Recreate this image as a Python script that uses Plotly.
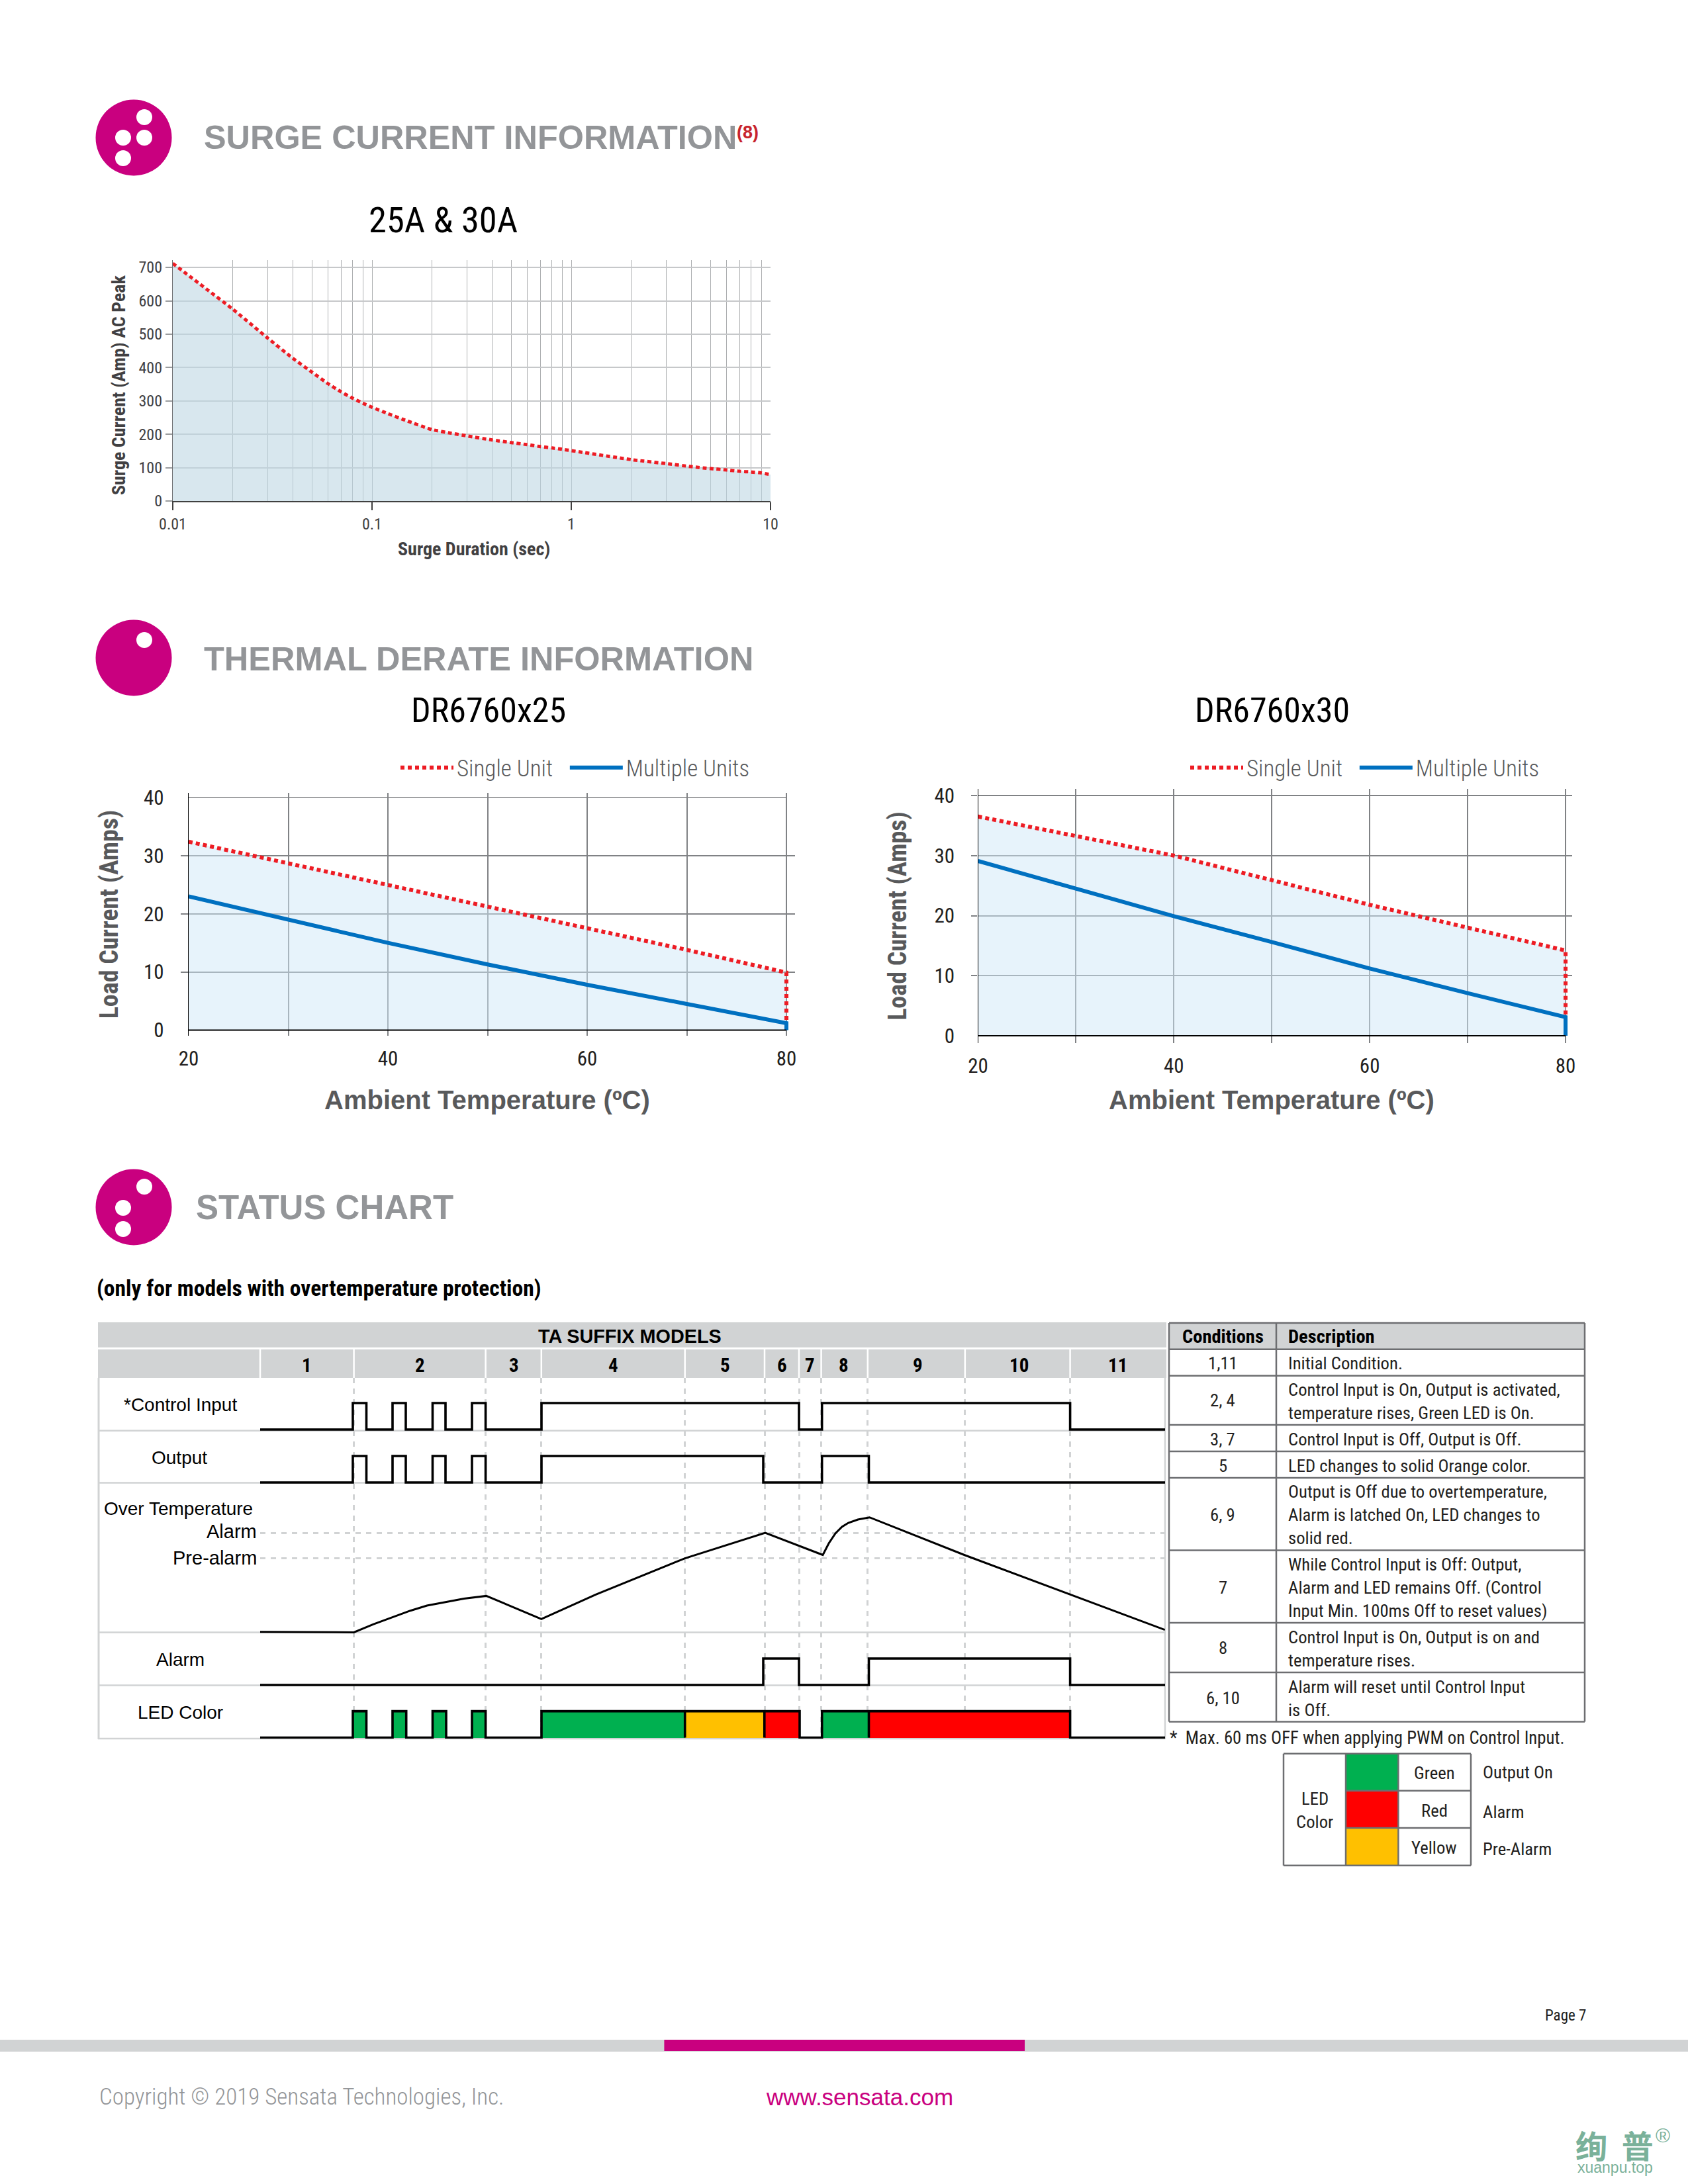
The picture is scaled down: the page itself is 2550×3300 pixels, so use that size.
import plotly.graph_objects as go

W, H = 2550, 3300
NARROW = "Roboto Condensed"
LIGHTF = "Roboto Condensed Light, Roboto Condensed"
SANS = "Liberation Sans"
MAG = "#c9007f"
GRAY = "#939598"
LIGHT = "#d1d3d4"

# ---------- data ----------
SURGE_T = [0.01, 0.015, 0.02, 0.03, 0.04, 0.05, 0.06, 0.07, 0.08, 0.09, 0.1, 0.12, 0.15, 0.2, 0.25, 0.3, 0.4, 0.5, 0.6, 0.7, 0.8, 0.9,
           1, 2, 3, 4, 5, 6, 7, 8, 9, 10]
SURGE_A = [712, 632, 575, 488, 428, 386, 352, 327, 308, 293, 281, 262, 240, 214, 203, 195, 183, 175, 169, 163, 159, 155,
           151, 124, 112, 103, 97, 93, 89, 87, 84, 79]
SURGE_X_MAJOR = [0.01, 0.1, 1, 10]
SURGE_X_MAJOR_TEXT = ["0.01", "0.1", "1", "10"]
SURGE_X_MINOR = [0.02, 0.03, 0.04, 0.05, 0.06, 0.07, 0.08, 0.09, 0.2, 0.3, 0.4, 0.5, 0.6, 0.7, 0.8, 0.9,
                 2, 3, 4, 5, 6, 7, 8, 9]
SURGE_Y_TICKS = [0, 100, 200, 300, 400, 500, 600, 700]

AMB = [20, 30, 40, 50, 60, 70, 80, 80]
SINGLE_25 = [32.4, 28.7, 25.0, 21.3, 17.5, 13.8, 9.9, 0]
MULTI_25 = [23.0, 19.0, 15.0, 11.3, 7.8, 4.5, 1.2, 0]
SINGLE_30 = [36.5, 33.2, 30.0, 25.9, 21.8, 18.0, 14.2, 0]
MULTI_30 = [29.1, 24.5, 19.9, 15.6, 11.2, 7.1, 3.1, 0]
AMB_MAJOR = [20, 40, 60, 80]
AMB_MINOR = [30, 50, 70]
LOAD_TICKS = [0, 10, 20, 30, 40]

# status timing chart (time axis in drawing units)
COND_EDGES = [393, 534.6, 733.6, 817.8, 1034.7, 1155, 1207, 1240.6, 1310.8, 1457.8, 1616.6, 1760]
COND_LABELS = ["1", "2", "3", "4", "5", "6", "7", "8", "9", "10", "11"]
COND_LABEL_POS = [463, 634, 776, 926, 1095, 1181, 1223, 1274, 1386.5, 1539, 1688]

CONTROL_T = [393, 533, 553.5, 593, 613, 653.5, 673, 713, 733.6, 818, 1207, 1241.7, 1616.6, 1760]
CONTROL_L = [0, 1, 0, 1, 0, 1, 0, 1, 0, 1, 0, 1, 0, 0]
OUTPUT_T = [393, 533, 553.5, 593, 613, 653.5, 673, 713, 733.6, 818, 1153, 1241.7, 1312.5, 1760]
OUTPUT_L = [0, 1, 0, 1, 0, 1, 0, 1, 0, 1, 0, 1, 0, 0]
ALARM_T = [393, 1153, 1207, 1312.5, 1616.6, 1760]
ALARM_L = [0, 1, 0, 1, 0, 0]
TEMP_T = [393, 534.6, 563.7, 589, 620, 645, 671, 701, 734.6, 817.8, 900, 930, 1034.7, 1156, 1243, 1252, 1262, 1272, 1281.6, 1296, 1313.6, 1458, 1616.6, 1759.7]
TEMP_V = [161.3, 160.5, 172.6, 182, 193.3, 201, 206, 211.4, 215.6, 180.7, 217.7, 230, 272.4, 311, 277.5, 295, 310, 320, 326, 331, 334.3, 277, 218, 164.3]
THRESHOLDS = [311, 272.4]

LED_START = [533, 593, 653.5, 713, 818, 1034.7, 1154.8, 1241.7, 1312.5]
LED_END = [553.5, 613.7, 674, 733.6, 1034.7, 1154.8, 1208, 1312.5, 1616.6]
LED_COLOR = ["#00b050", "#00b050", "#00b050", "#00b050", "#00b050", "#ffc000", "#ff0000", "#00b050", "#ff0000"]
LED_T = [393, 533, 553.5, 593, 613.7, 653.5, 674, 713, 733.6, 818, 1034.7, 1034.7, 1154.8, 1154.8, 1208, 1241.7, 1312.5, 1312.5, 1616.6, 1760]
LED_L = [0, 1, 0, 1, 0, 1, 0, 1, 0, 1, 0, 1, 0, 1, 0, 1, 0, 1, 0, 0]


def fx(x):
    return x / W


def fy(y):
    return 1 - y / H


shapes = []
annots = []


def text(x, y, s, size, color="#231f20", anchor="center", family=NARROW, bold=False, angle=0):
    annots.append(dict(x=fx(x), y=fy(y), xref="paper", yref="paper", text=s, showarrow=False,
                       xanchor=anchor, yanchor="middle", textangle=angle,
                       font=dict(family=family, size=size, color=color, weight="bold" if bold else "normal")))


def rect(x0, y0, x1, y1, fill=None, line=None, lw=0):
    shapes.append(dict(type="rect", xref="paper", yref="paper", x0=fx(x0), x1=fx(x1), y0=fy(y0), y1=fy(y1),
                       fillcolor=fill or "rgba(0,0,0,0)", line=dict(color=line or "rgba(0,0,0,0)", width=lw),
                       layer="below"))


def hline(x0, x1, y, color, lw):
    shapes.append(dict(type="line", xref="paper", yref="paper", x0=fx(x0), x1=fx(x1), y0=fy(y), y1=fy(y),
                       line=dict(color=color, width=lw), layer="below"))


def vline(x, y0, y1, color, lw):
    shapes.append(dict(type="line", xref="paper", yref="paper", x0=fx(x), x1=fx(x), y0=fy(y0), y1=fy(y1),
                       line=dict(color=color, width=lw), layer="below"))


def circle(cx, cy, r, color):
    shapes.append(dict(type="circle", xref="paper", yref="paper", x0=fx(cx - r), x1=fx(cx + r),
                       y0=fy(cy + r), y1=fy(cy - r), fillcolor=color, line=dict(width=0), layer="below"))


def logo(cy, dots):
    circle(202, cy, 57.5, MAG)
    for dx, dy in dots:
        circle(202 + dx, cy + dy, 12, "white")


logo(208, [(16, -31), (-16, 0), (16, 0), (-16, 31)])
logo(994, [(16, -27)])
logo(1824, [(16, -31), (-16, 1), (-16, 33)])

text(306, 208, "SURGE CURRENT INFORMATION", 50.4, GRAY, "left", SANS, True)
text(1111, 200, "(8)", 27, "#c8242b", "left", SANS, True)
text(306, 995, "THERMAL DERATE INFORMATION", 50.5, GRAY, "left", SANS, True)
text(294, 1824, "STATUS CHART", 51, GRAY, "left", SANS, True)
text(669, 332, "25A &amp; 30A", 54.5, "#000000")
text(737.6, 1073, "DR6760x25", 52, "#000000")
text(1922, 1073, "DR6760x30", 52, "#000000")
text(144, 1946, "(only for models with overtemperature protection)", 33.6, "#000000", "left", NARROW, True)

fig = go.Figure()

# ---------- surge chart ----------
fig.add_trace(go.Scatter(x=SURGE_T, y=SURGE_A, mode="lines", fill="tozeroy", fillcolor="rgba(190,215,227,0.6)",
                         line=dict(width=0), showlegend=False, hoverinfo="skip", xaxis="x", yaxis="y"))
fig.add_trace(go.Scatter(x=SURGE_T, y=SURGE_A, mode="lines", name="Surge current", showlegend=False,
                         line=dict(color="#ed1c24", width=5, dash="6px,4.5px", shape="spline", smoothing=0.5),
                         xaxis="x", yaxis="y", cliponaxis=False))


def ampl(sx, sy, ser, name, color, dash, width, legend, show=True):
    fig.add_trace(go.Scatter(x=AMB, y=ser, mode="lines", name=name, legend=legend, showlegend=show,
                             line=dict(color=color, width=width, dash=dash),
                             xaxis=sx, yaxis=sy, cliponaxis=False))


# ---------- derating charts ----------
for sx, sy, single, multi, leg in [("x2", "y2", SINGLE_25, MULTI_25, "legend"), ("x3", "y3", SINGLE_30, MULTI_30, "legend2")]:
    fig.add_trace(go.Scatter(x=AMB, y=single, mode="lines", fill="tozeroy", fillcolor="rgba(207,232,248,0.5)",
                             line=dict(width=0), showlegend=False, hoverinfo="skip", xaxis=sx, yaxis=sy))
    ampl(sx, sy, single, "Single Unit\u00a0\u00a0", "#ed1c24", "6px,5px", 6, leg)
    ampl(sx, sy, multi, "Multiple Units", "#0070c0", "solid", 6, leg)

# ---------- timing chart ----------
LANE_H = 40
CONTROL_BASE, OUTPUT_BASE, ALARM_BASE, LED_BASE = 467, 387, 81, 1.4
for i in range(len(LED_START)):
    fig.add_trace(go.Bar(x=[(LED_START[i] + LED_END[i]) / 2], y=[LANE_H], base=[LED_BASE],
                         width=[LED_END[i] - LED_START[i]], marker=dict(color=LED_COLOR[i], line=dict(width=0)),
                         showlegend=False, hoverinfo="skip", xaxis="x4", yaxis="y4"))


def step(t, lvl, base, name):
    fig.add_trace(go.Scatter(x=t, y=[base + LANE_H * v for v in lvl], mode="lines", name=name, showlegend=False,
                             line=dict(color="#000000", width=3.6, shape="hv"), xaxis="x4", yaxis="y4", cliponaxis=False))


step(CONTROL_T, CONTROL_L, CONTROL_BASE, "Control Input")
step(OUTPUT_T, OUTPUT_L, OUTPUT_BASE, "Output")
step(ALARM_T, ALARM_L, ALARM_BASE, "Alarm")
step(LED_T, LED_L, LED_BASE, "LED Color")
fig.add_trace(go.Scatter(x=TEMP_T, y=TEMP_V, mode="lines", name="Over Temperature", showlegend=False,
                         line=dict(color="#000000", width=3), xaxis="x4", yaxis="y4"))

# status chart frame
rect(148, 1998, 1762, 2036, LIGHT)
rect(148, 2039, 1762, 2082, LIGHT)
for e in COND_EDGES[:-1]:
    vline(e, 2039, 2082, "white", 2.5)
for y in [2161.8, 2240.5, 2466.5, 2546.5, 2627]:
    hline(148, 1760, y, LIGHT, 2.5)
vline(149, 2082, 2628, LIGHT, 3)
vline(1760, 2082, 2628, LIGHT, 2.5)
text(951, 2018.7, "TA SUFFIX MODELS", 28.8, "#000000", "center", SANS, True)
for pos, lab in zip(COND_LABEL_POS, COND_LABELS):
    text(pos, 2063, lab, 29, "#000000", "center", NARROW, True)
text(272.5, 2122, "*Control Input", 28, "#000000", "center", SANS)
text(271, 2202, "Output", 28, "#000000", "center", SANS)
text(155, 2279, "Over Temperature", 28, "#000000", "left", SANS)
text(390, 2314, "Alarm", 29, "#000000", "right", SANS)
text(390, 2354, "Pre-alarm", 29, "#000000", "right", SANS)
text(272, 2507, "Alarm", 28, "#000000", "center", SANS)
text(272, 2587, "LED Color", 28, "#000000", "center", SANS)

# conditions table
TBL = "#6d6e71"
rect(1766, 1999, 2394, 2038.7, LIGHT)
ROW_Y = [1999, 2038.7, 2078.7, 2153, 2193, 2233, 2342.6, 2452, 2527, 2601.5]
for y in ROW_Y:
    hline(1766, 2394, y, TBL, 2.5)
for x in [1766, 1928, 2394]:
    vline(x, 1999, 2601.5, TBL, 2.5)
text(1847.4, 2019.5, "Conditions", 28.5, "#000000", "center", NARROW, True)
text(1944, 2019.5, "Description", 28.5, "#000000", "left", NARROW, True)
COND_ROWS = [("1,11", 2060), ("2, 4", 2116), ("3, 7", 2174.7), ("5", 2214.8), ("6, 9", 2289), ("7", 2399), ("8", 2490), ("6, 10", 2566)]
for s, y in COND_ROWS:
    text(1847.4, y, s, 26.7, "#231f20")
DESC_ROWS = [("Initial Condition.", 2060), ("Control Input is On, Output is activated,", 2099.6),
             ("temperature rises, Green LED is On.", 2135), ("Control Input is Off, Output is Off.", 2174.7),
             ("LED changes to solid Orange color.", 2214.8), ("Output is Off due to overtemperature,", 2254),
             ("Alarm is latched On, LED changes to", 2289), ("solid red.", 2324),
             ("While Control Input is Off: Output,", 2364), ("Alarm and LED remains Off. (Control", 2399),
             ("Input Min. 100ms Off to reset values)", 2434), ("Control Input is On, Output is on and", 2474),
             ("temperature rises.", 2509), ("Alarm will reset until Control Input", 2549), ("is Off.", 2584)]
for s, y in DESC_ROWS:
    text(1944, y, s, 26.7, "#231f20", "left")
text(1765, 2626, "*  Max. 60 ms OFF when applying PWM on Control Input.", 26.8, "#231f20", "left")

# LED colour key
KEY_Y = [2649.8, 2705.7, 2762, 2818.7]
rect(2033, KEY_Y[0], 2112.4, KEY_Y[1], "#00b050")
rect(2033, KEY_Y[1], 2112.4, KEY_Y[2], "#ff0000")
rect(2033, KEY_Y[2], 2112.4, KEY_Y[3], "#ffc000")
hline(1939, 2222, KEY_Y[0], TBL, 2.5)
hline(1939, 2222, KEY_Y[3], TBL, 2.5)
hline(2033, 2222, KEY_Y[1], TBL, 2.5)
hline(2033, 2222, KEY_Y[2], TBL, 2.5)
for x in [1939, 2033, 2112.4, 2222]:
    vline(x, KEY_Y[0], KEY_Y[3], TBL, 2.5)
text(1986, 2717.8, "LED", 26.7)
text(1986, 2753, "Color", 26.7)
text(2166.7, 2679, "Green", 26.7)
text(2166.7, 2736, "Red", 26.7)
text(2166.7, 2792, "Yellow", 26.7)
text(2238, 2678, "Output On", 26.7, anchor="left")
text(2238, 2738, "Alarm", 26.7, anchor="left")
text(2238, 2793.5, "Pre-Alarm", 26.7, anchor="left")

# footer
text(2398, 3045, "Page 7", 23, "#231f20", "right")
rect(0, 3082, W, 3100, LIGHT)
rect(1003.4, 3082, 1548, 3099, MAG)
text(148, 3168, "Copyright © 2019 Sensata Technologies, Inc.", 35, GRAY, "left", LIGHTF)
text(1155, 3168, "www.sensata.com", 35, MAG, "left", SANS)
text(2378, 3240, "绚  普", 48, "#7ab19a", "left", "Noto Sans CJK SC", True)
text(2512, 3226, "®", 30, "#7ab19a", "center", SANS)
text(2440, 3275, "xuanpu.top", 23, "#7ab19a", "center", SANS)

# axis titles placed where the reference has them
text(736, 1662, "Ambient Temperature (ºC)", 40, "#58595b", "center", SANS, True)
text(1921, 1662, "Ambient Temperature (ºC)", 40, "#58595b", "center", SANS, True)
text(179, 582, "Surge Current (Amp) AC Peak", 28, "#414042", "center", NARROW, True, -90)
text(715.6, 829, "Surge Duration (sec)", 28, "#414042", "center", NARROW, True)

TICK_FONT = dict(family=NARROW, size=31, color="#231f20")
GRID_C = "#808285"


def amb_axes(x0, x1, top, y40, y0, bottom, right_ext, left_tick, title_off):
    unit_y = (y0 - y40) / 40
    unit_x = (x1 - x0) / 60
    xa = dict(domain=[fx(x0), fx(x1 + right_ext)], range=[20, 80 + right_ext / unit_x],
              tickmode="array", tickvals=AMB_MAJOR, ticktext=[str(v) for v in AMB_MAJOR], ticks="", ticklabelstandoff=13,
              tickfont=TICK_FONT, showgrid=True, gridcolor=GRID_C, gridwidth=1.6, zeroline=False,
              showline=False, minor=dict(tickmode="array", tickvals=AMB_MINOR, showgrid=True, gridcolor=GRID_C, gridwidth=1.6, ticks=""))
    ya = dict(domain=[fy(bottom), fy(top)], range=[-(bottom - y0) / unit_y, 40 + (y40 - top) / unit_y],
              tickmode="array", tickvals=LOAD_TICKS, ticktext=[str(v) for v in LOAD_TICKS], ticks="",
              ticklabelstandoff=left_tick, tickfont=TICK_FONT, showgrid=False, zeroline=False,
              showline=True, linecolor="#000000", linewidth=1.4,
              title=dict(text="Load Current (Amps)", standoff=title_off,
                         font=dict(family=NARROW, size=38, color="#58595b", weight="bold")))
    return xa, ya


xa2, ya2 = amb_axes(285, 1188, 1198, 1205, 1556.5, 1565, 13, 30, 26)
ya2["minor"] = dict(tickmode="array", tickvals=[10, 20, 30], showgrid=True, gridcolor=GRID_C, gridwidth=1.6,
                    ticks="outside", ticklen=11, tickcolor=GRID_C, tickwidth=1.6)
xa3, ya3 = amb_axes(1477.5, 2365, 1192, 1202, 1565, 1576, 10, 28, 30)
ya3["minor"] = dict(tickmode="array", tickvals=[10, 20, 30, 40], showgrid=True, gridcolor=GRID_C, gridwidth=1.6,
                    ticks="outside", ticklen=9, tickcolor=GRID_C, tickwidth=1.6)

# top (40) and zero lines that stop at the 80 degree gridline
for sx, sy in [("x2", "y2"), ("x3", "y3")]:
    shapes.append(dict(type="line", xref=sx, yref=sy, x0=20, x1=80, y0=0, y1=0, line=dict(color="#000000", width=1.8), layer="above"))
shapes.append(dict(type="line", xref="x2", yref="y2", x0=20, x1=80, y0=40, y1=40, line=dict(color=GRID_C, width=1.6), layer="below"))

annot_font_tick1 = dict(family=NARROW, size=24, color="#414042")
fig.update_layout(
    template="none",
    width=W, height=H, autosize=False, margin=dict(l=0, r=0, t=0, b=0, autoexpand=False), paper_bgcolor="white",
    plot_bgcolor="rgba(0,0,0,0)", barmode="overlay", bargap=0, shapes=shapes, annotations=annots,
    font=dict(family=NARROW, color="#231f20"),
    xaxis=dict(type="log", domain=[fx(261), fx(1164)], range=[-2, 1], tickmode="array", tickvals=SURGE_X_MAJOR,
               ticktext=SURGE_X_MAJOR_TEXT, ticks="outside", ticklen=12, tickwidth=1.6, tickcolor="#404040",
               tickfont=annot_font_tick1, showgrid=True, gridcolor="#adafb1", gridwidth=1.4, zeroline=False, showline=True,
               linecolor="#404040", linewidth=2.2, anchor="y",
               minor=dict(tickmode="array", tickvals=SURGE_X_MINOR, showgrid=True, gridcolor="#adafb1", gridwidth=1.4, ticks="")),
    yaxis=dict(domain=[fy(757), fy(393)], range=[0, 722], tickmode="array", tickvals=SURGE_Y_TICKS,
               ticks="outside", ticklen=10, tickwidth=1.6, tickcolor="#9a9c9e", tickfont=annot_font_tick1,
               showgrid=True, gridcolor="#c6c8ca", gridwidth=2, zeroline=False, showline=True, linecolor="#6d6e71", linewidth=1.4,
               anchor="x"),
    xaxis2=dict(anchor="y2", **xa2), yaxis2=dict(anchor="x2", **ya2),
    xaxis3=dict(anchor="y3", **xa3), yaxis3=dict(anchor="x3", **ya3),
    xaxis4=dict(domain=[fx(393), fx(1760)], range=[393, 1760], anchor="y4", tickmode="array", tickvals=COND_EDGES[:-1],
                showticklabels=False, ticks="", showgrid=True, gridcolor=LIGHT, gridwidth=2.6, griddash="8px,8px",
                zeroline=False, showline=False),
    yaxis4=dict(domain=[fy(2627), fy(2082)], range=[0, 545], anchor="x4", tickmode="array", tickvals=THRESHOLDS,
                showticklabels=False, ticks="", showgrid=True, gridcolor=LIGHT, gridwidth=2.6, griddash="8px,8px",
                zeroline=False, showline=False),
    legend=dict(orientation="h", x=fx(600), y=fy(1160), xanchor="left", yanchor="middle", itemwidth=80,
                bgcolor="rgba(0,0,0,0)", font=dict(family=LIGHTF, size=35, color="#58595b")),
    legend2=dict(orientation="h", x=fx(1793), y=fy(1160), xanchor="left", yanchor="middle", itemwidth=80,
                 bgcolor="rgba(0,0,0,0)", font=dict(family=LIGHTF, size=35, color="#58595b")),
)

fig.write_html("out.html", config={"displayModeBar": False}, post_script="document.body.style.margin='0';")
